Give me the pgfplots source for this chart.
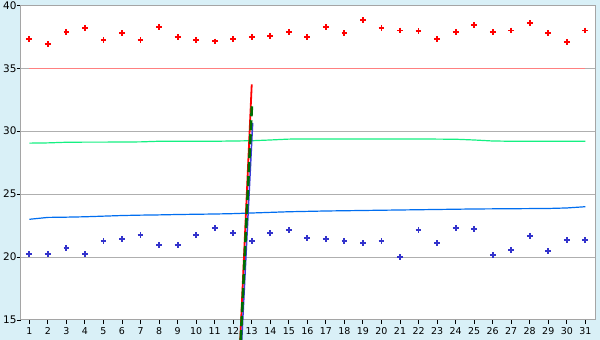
\documentclass[border=0pt]{standalone}
\usepackage{pgfplots}
\pgfplotsset{compat=1.18}
\usepackage{fontspec}
\setmainfont{DejaVu Sans}
\definecolor{bgc}{RGB}{217,240,247}
\definecolor{axc}{RGB}{165,165,165}
\definecolor{gridc}{RGB}{175,175,175}
\definecolor{redm}{RGB}{255,0,0}
\definecolor{bluem}{RGB}{51,51,204}
\definecolor{greenl}{RGB}{20,240,130}
\definecolor{bluel}{RGB}{0,110,240}
\definecolor{pinkl}{RGB}{255,128,128}
\definecolor{darkg}{RGB}{0,110,0}
\definecolor{vblue}{RGB}{60,60,220}
\begin{document}
\begin{tikzpicture}
\fill[bgc] (-20.67bp,-20bp) rectangle (579.33bp,320bp);
\useasboundingbox (-20.67bp,-20bp) rectangle (579.33bp,320bp);
\begin{axis}[
  at={(0,0)}, anchor=south west,
  scale only axis, width=574.33bp, height=314.7bp,
  xmin=0.532, xmax=31.522, ymin=15, ymax=40,
  xtick={1,...,31}, ytick={15,20,...,40},
  /pgf/number format/assume math mode=true,
  ymajorgrids, grid style={gridc, line width=1bp},
  axis background/.style={fill=white},
  axis line style={axc, line width=1bp},
  tick style={black, line width=0.9bp},
  major tick length=4bp, tick align=outside,
  xtick pos=bottom, ytick pos=left,
  xticklabel style={font=\fontsize{9.5}{11}\selectfont, inner sep=0pt, anchor=north, yshift=-3.5bp},
  yticklabel style={font=\fontsize{10.5}{12}\selectfont, inner sep=0pt, anchor=east, xshift=0bp},
  clip=false,
]
% limit line
\addplot[pinkl, line width=1bp] coordinates {(1,35) (31,35)};
% green trend line
\addplot[greenl, line width=1.2bp] coordinates {
(1,29.05) (2,29.07) (3,29.12) (4,29.13) (5,29.13) (6,29.14) (7,29.15) (8,29.2) (9,29.2) (10,29.2)
(11,29.2) (12,29.22) (13,29.24) (14,29.3) (15,29.37) (16,29.38) (17,29.38) (18,29.38) (19,29.38) (20,29.38)
(21,29.38) (22,29.38) (23,29.37) (24,29.36) (25,29.3) (26,29.22) (27,29.2) (28,29.2) (29,29.2) (30,29.2) (31,29.2)};
% blue trend line
\addplot[bluel, line width=1.2bp] coordinates {
(1,23.0) (2,23.15) (3,23.17) (4,23.2) (5,23.25) (6,23.3) (7,23.33) (8,23.35) (9,23.38) (10,23.4)
(11,23.42) (12,23.45) (13,23.5) (14,23.55) (15,23.6) (16,23.63) (17,23.66) (18,23.68) (19,23.7) (20,23.72)
(21,23.74) (22,23.76) (23,23.78) (24,23.8) (25,23.82) (26,23.83) (27,23.84) (28,23.85) (29,23.86) (30,23.9) (31,24.0)};
% steep lines
\addplot[redm, line width=1.8bp] coordinates {(12.38,13.41) (13.0,33.72)};
\addplot[vblue, line width=1.5bp] coordinates {(12.46,13.41) (13.05,30.65)};
\addplot[darkg, line width=2.6bp, dash pattern=on 10bp off 4bp] coordinates {(12.405,13.41) (13.015,32.21)};
% red markers
\addplot[only marks, mark=+, redm, mark size=2.9bp, mark options={line width=1.9bp}] coordinates {
(1,37.30) (2,36.90) (3,37.86) (4,38.17) (5,37.22) (6,37.78) (7,37.22) (8,38.25) (9,37.46) (10,37.22)
(11,37.13) (12,37.30) (13,37.46) (14,37.54) (15,37.86) (16,37.46) (17,38.25) (18,37.78) (19,38.81) (20,38.17)
(21,38.0) (22,37.94) (23,37.30) (24,37.86) (25,38.41) (26,37.86) (27,38.0) (28,38.57) (29,37.78) (30,37.06) (31,38.0)};
% blue markers
\addplot[only marks, mark=+, bluem, mark size=2.9bp, mark options={line width=1.9bp}] coordinates {
(1,20.24) (2,20.24) (3,20.71) (4,20.24) (5,21.27) (6,21.43) (7,21.75) (8,20.95) (9,20.95) (10,21.75)
(11,22.30) (12,21.90) (13,21.27) (14,21.90) (15,22.14) (16,21.51) (17,21.43) (18,21.27) (19,21.11) (20,21.27)
(21,20.0) (22,22.14) (23,21.11) (24,22.30) (25,22.22) (26,20.16) (27,20.56) (28,21.67) (29,20.48) (30,21.35) (31,21.35)};
\end{axis}
\end{tikzpicture}
\end{document}
